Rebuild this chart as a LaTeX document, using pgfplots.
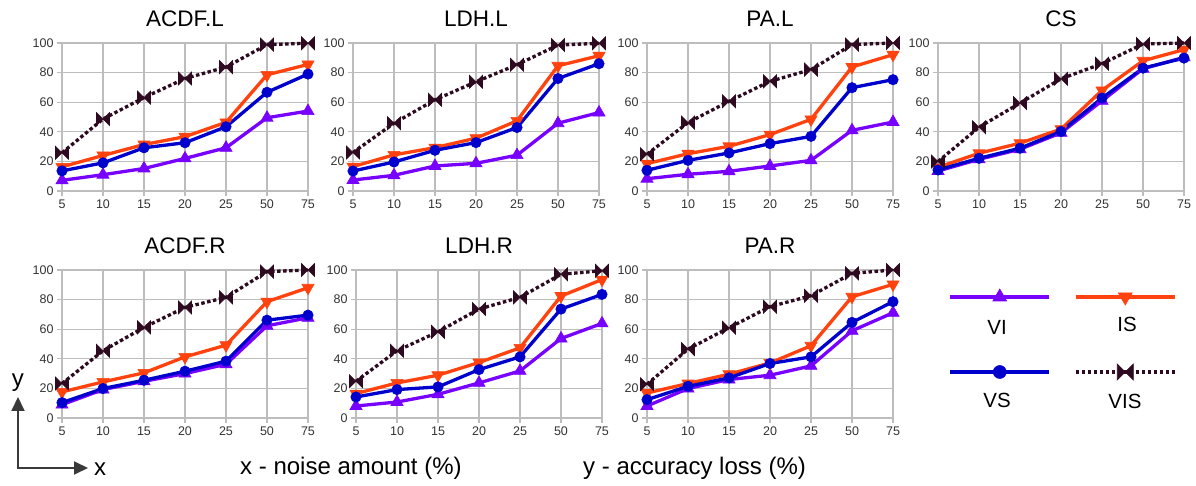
\documentclass[border=0pt]{standalone}
\usepackage{fontspec}
\setmainfont{Liberation Sans}
\usepackage{pgfplots}
\pgfplotsset{compat=1.18}
\usepackage{pgfplotstable}
\usetikzlibrary{arrows.meta}

\definecolor{cVI}{HTML}{7700FF}
\definecolor{cIS}{HTML}{FF420E}
\definecolor{cVS}{HTML}{0000CC}
\definecolor{cVIS}{HTML}{2E0A20}
\definecolor{gridgray}{HTML}{BDBDBD}
\definecolor{ticktext}{HTML}{333333}
\definecolor{arrowgray}{HTML}{3A3A3A}

% bow-tie marker: two triangles meeting at the centre
\pgfdeclareplotmark{bowtie}{%
  \pgfpathmoveto{\pgfqpoint{-\pgfplotmarksize}{\pgfplotmarksize}}%
  \pgfpathlineto{\pgfqpoint{\pgfplotmarksize}{-\pgfplotmarksize}}%
  \pgfpathlineto{\pgfqpoint{\pgfplotmarksize}{\pgfplotmarksize}}%
  \pgfpathlineto{\pgfqpoint{-\pgfplotmarksize}{-\pgfplotmarksize}}%
  \pgfpathclose
  \pgfusepathqfillstroke}

\tikzset{
  sVI/.style={cVI, line width=3.3pt, mark=triangle*, mark size=7pt, mark options={solid, line width=0.6pt}},
  sIS/.style={cIS, line width=3.3pt, mark=triangle*, mark size=7pt, mark options={solid, rotate=180, line width=0.6pt}},
  sVS/.style={cVS, line width=3.3pt, mark=*, mark size=5.2pt, mark options={solid, line width=0.6pt}},
  sVIS/.style={cVIS, line width=3.3pt, dash pattern=on 3.5pt off 2.5pt, mark=bowtie, mark size=6.5pt, mark options={solid, line width=0.6pt}},
}

\pgfplotsset{
  every axis title shift=0pt,
  every axis title/.style={at={(0.5,1)}, anchor=base, yshift=16pt, font=\fontsize{22.5}{26}\selectfont},
  panel/.style={
    scale only axis, width=246pt, height=148pt,
    anchor=south west,
    xmin=0, xmax=6, ymin=0, ymax=100,
    xtick={0,...,6}, xticklabels={5,10,15,20,25,50,75},
    ytick={0,20,...,100},
    grid=major, grid style={gridgray, line width=1.2pt},
    axis line style={gridgray, line width=1.2pt},
    tick style={gridgray, line width=1.2pt},
    tick align=outside, major tick length=5pt, tick pos=left,
    tick label style={font=\fontsize{12.5}{14}\selectfont, text=ticktext},
    /pgf/number format/assume math mode=true,
    clip=false,
  },
  legendrow/.style={
    hide axis, scale only axis, width=10pt, height=10pt, anchor=south west,
    xmin=0, xmax=1, ymin=0, ymax=1,
    legend columns=2,
    legend style={at={(0,0.5)}, anchor=west, draw=none, fill=none,
      inner sep=0pt, outer sep=0pt, nodes={inner sep=0pt},
      /tikz/every even column/.append style={column sep=21pt}},
    legend image code/.code={\draw[mark repeat=2, mark phase=2, ##1]
      plot coordinates {(0pt,0pt) (49.5pt,0pt) (99pt,0pt)};},
  },
}

% accuracy loss (%) per noise level, one table per dataset
\pgfplotstableread{
x VI   IS   VS   VIS
0 7.2  16.3 13.6 25.8
1 11.0 24.0 19.0 48.6
2 15.2 31.4 29.2 63.1
3 22.0 36.7 32.6 76.0
4 29.2 46.4 43.4 83.7
5 49.5 78.5 66.7 98.9
6 54.0 85.5 79.0 99.8
}\tACDFL
\pgfplotstableread{
x VI   IS   VS   VIS
0 7.4  16.5 13.5 26.0
1 10.6 24.4 19.6 45.8
2 16.9 29.3 27.5 61.6
3 18.7 35.7 32.7 73.8
4 24.2 47.4 42.9 85.3
5 45.8 84.6 76.0 98.6
6 53.0 91.4 86.0 99.8
}\tLDHL
\pgfplotstableread{
x VI   IS   VS   VIS
0 8.3  18.5 14.0 24.8
1 11.3 25.2 20.7 46.2
2 13.3 30.2 25.7 60.6
3 16.9 38.1 32.0 74.1
4 20.7 48.4 36.9 82.0
5 41.0 83.8 69.8 98.9
6 46.6 92.1 75.2 100.0
}\tPAL
\pgfplotstableread{
x VI   IS   VS   VIS
0 13.5 16.0 14.2 19.9
1 21.4 25.5 22.1 43.1
2 28.2 32.3 28.9 59.4
3 39.3 41.8 40.2 75.8
4 60.9 68.0 62.8 86.0
5 82.6 88.0 83.0 99.3
6 90.3 95.5 89.8 100.0
}\tCS
\pgfplotstableread{
x VI   IS   VS   VIS
0 9.0  17.6 10.4 23.3
1 19.2 24.4 19.9 45.4
2 24.8 30.5 25.5 61.2
3 30.0 41.3 31.6 74.7
4 36.3 49.2 38.4 81.5
5 62.3 78.6 66.1 98.9
6 67.7 88.0 69.5 100.0
}\tACDFR
\pgfplotstableread{
x VI   IS   VS   VIS
0 8.1  16.5 14.2 24.8
1 10.8 23.7 19.2 45.4
2 16.0 28.9 21.0 58.2
3 23.7 37.5 32.7 73.6
4 31.8 47.4 41.3 81.5
5 53.7 82.4 73.6 97.1
6 63.9 93.5 83.5 99.5
}\tLDHR
\pgfplotstableread{
x VI   IS   VS   VIS
0 8.1  16.9 12.4 22.8
1 19.9 23.3 21.4 46.5
2 26.0 29.6 27.1 61.0
3 28.9 37.2 36.8 75.2
4 35.2 48.8 41.3 82.6
5 58.9 81.9 64.6 97.7
6 71.1 90.3 78.6 100.0
}\tPAR

\newcommand{\fourseries}[1]{%
  \addplot[sVI] table[x=x, y=VI] {#1};
  \addplot[sIS] table[x=x, y=IS] {#1};
  \addplot[sVS] table[x=x, y=VS] {#1};
  \addplot[sVIS] table[x=x, y=VIS] {#1};
}

\begin{document}
\begin{tikzpicture}
\useasboundingbox (0pt,0pt) rectangle (1196pt,486pt);

% top row
\begin{axis}[panel, at={(62pt,295pt)}, title={ACDF.L}]
\fourseries{\tACDFL}
\end{axis}
\begin{axis}[panel, at={(353pt,295pt)}, title={LDH.L}]
\fourseries{\tLDHL}
\end{axis}
\begin{axis}[panel, at={(647pt,295pt)}, title={PA.L}]
\fourseries{\tPAL}
\end{axis}
\begin{axis}[panel, at={(938pt,295pt)}, title={CS}]
\fourseries{\tCS}
\end{axis}

% bottom row
\begin{axis}[panel, at={(62pt,68pt)}, title={ACDF.R}]
\fourseries{\tACDFR}
\end{axis}
\begin{axis}[panel, at={(356pt,68pt)}, title={LDH.R}]
\fourseries{\tLDHR}
\end{axis}
\begin{axis}[panel, at={(647pt,68pt)}, title={PA.R}]
\fourseries{\tPAR}
\end{axis}

% legend, two rows of keys with the names set below each key
\begin{axis}[legendrow, at={(948pt,184pt)}]
\addlegendimage{sVI, line width=4.5pt, mark size=8pt}\addlegendentry{}
\addlegendimage{sIS, line width=4.5pt, mark size=8pt}\addlegendentry{}
\end{axis}
\begin{axis}[legendrow, at={(948pt,109pt)}]
\addlegendimage{sVS, line width=4.5pt, mark size=6.5pt}\addlegendentry{}
\addlegendimage{sVIS, line width=4.5pt, mark size=8pt}\addlegendentry{}
\end{axis}
\begin{scope}[every node/.style={anchor=base, font=\fontsize{20.5}{24}\selectfont, inner sep=0pt}]
\node at (997pt,151pt) {VI};
\node at (1127pt,154pt) {IS};
\node at (997pt,78pt) {VS};
\node at (1125pt,77pt) {VIS};
\end{scope}

% axis key in the lower left corner
\draw[arrowgray, line width=2pt, {Triangle[length=14pt,width=13pt]}-{Triangle[length=14pt,width=13pt]}]
  (18pt,89pt) -- (18pt,18pt) -- (88pt,18pt);
\begin{scope}[every node/.style={inner sep=0pt, font=\fontsize{24}{28}\selectfont}]
\node[anchor=base] at (18pt,99pt) {y};
\node[anchor=base] at (100pt,10pt) {x};
\node[anchor=base west] at (240pt,11pt) {x - noise amount (\%)};
\node[anchor=base west] at (583pt,11pt) {y - accuracy loss (\%)};
\end{scope}
\end{tikzpicture}
\end{document}
